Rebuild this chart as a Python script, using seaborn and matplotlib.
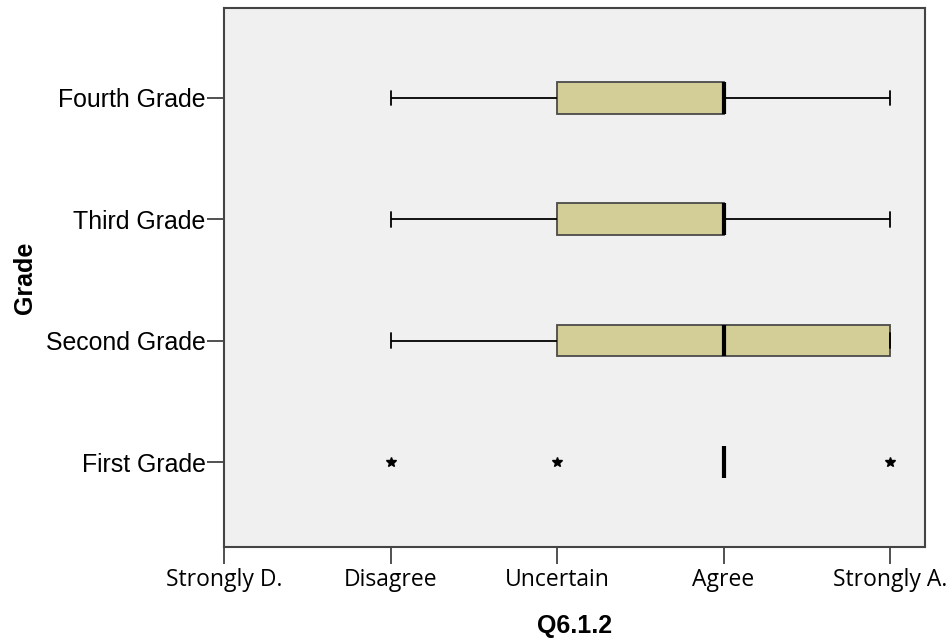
import matplotlib
matplotlib.use("Agg")
import matplotlib.pyplot as plt
import seaborn as sns
import pandas as pd

# Data (responses per grade, 1=Strongly D. ... 5=Strongly A.)
grades = ["Fourth Grade", "Third Grade", "Second Grade", "First Grade"]
fourth = [2, 3, 3, 4, 4, 4, 4, 4, 5]
third = [2, 3, 3, 4, 4, 4, 4, 4, 5]
second = [2, 3, 3, 4, 4, 4, 5, 5, 5]
first = [2, 3, 4, 4, 4, 4, 4, 4, 5]
x_ticks = [1, 2, 3, 4, 5]
x_labels = ["Strongly D.", "Disagree", "Uncertain", "Agree", "Strongly A."]

rows = []
for g, vals in zip(grades, [fourth, third, second, first]):
    for v in vals:
        rows.append({"Grade": g, "Q6.1.2": v})
df = pd.DataFrame(rows)

sns.set_style("white")
plt.rcParams['font.family'] = ['Liberation Sans', 'DejaVu Sans']
plt.rcParams['text.color'] = 'black'
plt.rcParams['axes.labelcolor'] = 'black'
plt.rcParams['xtick.color'] = 'black'
plt.rcParams['ytick.color'] = 'black'

fig = plt.figure(figsize=(9.5, 6.38), dpi=100)
ax = fig.add_axes([224/950, 1-547/638, (925-224)/950, (547-8)/638])
ax.set_facecolor("#F0F0F0")

sns.boxplot(data=df, x="Q6.1.2", y="Grade", order=grades, orient="h",
            width=0.26, whis=1.5, color="#D3CE97", saturation=1,
            linewidth=1.3, ax=ax,
            boxprops=dict(facecolor="#D3CE97", edgecolor="#4a4a4a", linewidth=1.3),
            whiskerprops=dict(color="black", linewidth=1.3),
            capprops=dict(color="black", linewidth=1.3),
            medianprops=dict(color="black", linewidth=3),
            flierprops=dict(marker="*", markersize=7.5, markerfacecolor="black",
                            markeredgecolor="black"),
            capwidths=0.12)

ax.set_xlim(1, 5.21)
ax.set_ylim(3.70, -0.74)
ax.set_xticks(x_ticks)
ax.set_xticklabels(x_labels, fontsize=16.5, family=['Open Sans', 'DejaVu Sans'])
ax.tick_params(axis='x', bottom=True, length=12.2, width=1.2, color="#333333",
               pad=3.0, labelcolor='black')
ax.tick_params(axis='y', left=True, length=12, width=1.2, color="#333333",
               labelsize=17.9, pad=1.4, labelcolor='black')
ax.set_xlabel("Q6.1.2", fontsize=18, fontweight='bold', labelpad=16, color='black')
ax.set_ylabel("Grade", fontsize=18, fontweight='bold', labelpad=6, color='black')
for s in ax.spines.values():
    s.set_visible(True)
    s.set_color("#444444")
    s.set_linewidth(1.5)

fig.savefig("out.png", dpi=100, facecolor="white")
